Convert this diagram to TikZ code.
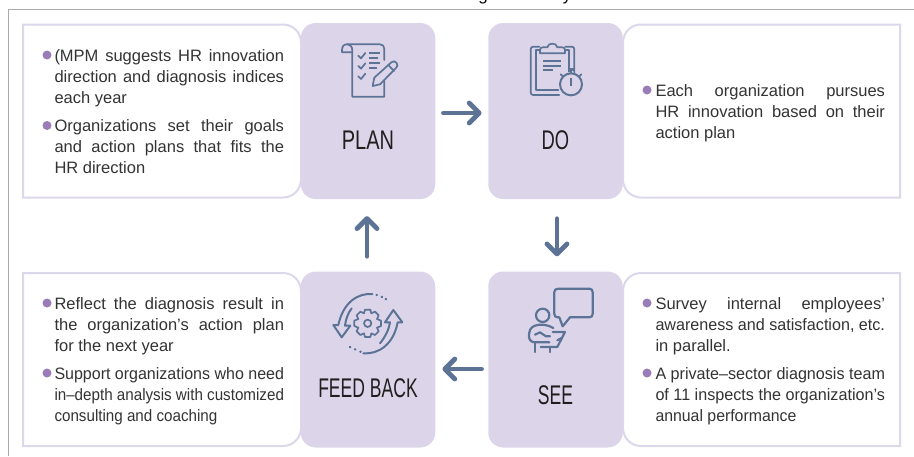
\documentclass[tikz,border=0pt]{standalone}
\usepackage{graphicx}
\usepackage{fontspec}
\setmainfont{Liberation Sans}
\usetikzlibrary{arrows.meta}
\definecolor{pillc}{HTML}{DCD5EA}
\definecolor{edgec}{HTML}{DDD7EC}
\definecolor{steel}{HTML}{5C7396}
\definecolor{dotc}{HTML}{9A7DB8}
\definecolor{inkc}{HTML}{333333}
\definecolor{framec}{HTML}{ABABAB}
\newlength\jw \setlength\jw{229.5pt}
\newsavebox\jb
\newcommand\jl[1]{\sbox\jb{#1}\ifdim\wd\jb>\jw \pgfmathsetmacro\jr{\jw/\wd\jb}\scalebox{\jr}[1]{\usebox\jb}\else\makebox[\jw][s]{#1}\fi\\}
\newcommand\nar[2]{\scalebox{#1}[1]{#2}}
\tikzset{
  x=1pt,y=-1pt,
  pill/.style={fill=pillc,rounded corners=15pt,minimum width=134.5pt,minimum height=176pt,inner sep=0pt},
  boxedge/.style={draw=edgec,line width=2pt,fill=white},
  para/.style={anchor=base west,inner sep=0pt,outer sep=0pt,align=left,text=inkc,font=\fontsize{16.5}{21}\selectfont},
  dotmark/.style={circle,fill=dotc,minimum size=9pt,inner sep=0pt},
  stage/.style={anchor=base,inner sep=0pt,text=black!88,font=\fontsize{27}{30}\selectfont},
  flow/.style={draw=steel,line width=4.8pt,line cap=round,-{Straight Barb[length=10pt,width=20pt,line width=4.8pt,round]}},
  icon/.style={draw=steel,line width=1.7pt,line join=round,line cap=round},
  iconbar/.style={draw=steel,line width=2pt},
}
\begin{document}
\begin{tikzpicture}
\useasboundingbox (0,0) rectangle (914,456);
\fill[white] (0,0) rectangle (914,456);
% clipped title descenders
\begin{scope}
\clip (0,0) rectangle (914,3.6);
\node[anchor=base,inner sep=0pt,font=\fontsize{17}{20}\selectfont] (tg) at (483,0) {g};
\node[anchor=base,inner sep=0pt,font=\fontsize{17}{20}\selectfont] (ty) at (567,0) {y};
\end{scope}
% frame
\draw[framec,line width=1pt] (8.5,456) -- (8.5,9) -- (914,9);
% text boxes
\path[boxedge] (23,24.5) -- (283,24.5) .. controls (293,24.5) and (301,32.5) .. (301,42.5) -- (301,179.5) .. controls (301,189.5) and (293,197.5) .. (283,197.5) -- (23,197.5) -- cycle;
\path[boxedge] (900,24.5) -- (641,24.5) .. controls (631,24.5) and (623,32.5) .. (623,42.5) -- (623,179.5) .. controls (623,189.5) and (631,197.5) .. (641,197.5) -- (900,197.5) -- cycle;
\path[boxedge] (23,273) -- (283,273) .. controls (293,273) and (301,281) .. (301,291) -- (301,428) .. controls (301,438) and (293,446) .. (283,446) -- (23,446) -- cycle;
\path[boxedge] (900,273) -- (641,273) .. controls (631,273) and (623,281) .. (623,291) -- (623,428) .. controls (623,438) and (631,446) .. (641,446) -- (900,446) -- cycle;
% stage panels
\node[pill] (plan) at (368,111) {};
\node[pill] (do) at (555.5,111) {};
\node[pill] (feed) at (368,359.5) {};
\node[pill] (see) at (555.5,359.5) {};
% stage labels
\node[stage] (planlab) at (368,149) {\nar{0.74}{PLAN}};
\node[stage] (dolab) at (555.5,149) {\nar{0.68}{DO}};
\node[stage] (feedlab) at (368,397.7) {\nar{0.65}{FEED BACK}};
\node[stage] (seelab) at (555.5,404) {\nar{0.65}{SEE}};
% flow arrows
\draw[flow,shorten <=8pt,shorten >=6.5pt] ([yshift=-2pt]plan.east) -- ([yshift=-2pt]do.west);
\draw[flow,shorten <=19.5pt,shorten >=15pt] ([xshift=1.5pt]do.south) -- ([xshift=1.5pt,yshift=0pt]see.north);
\draw[flow,shorten <=6.5pt,shorten >=7pt] ([yshift=-9.5pt]see.west) -- ([yshift=-9.5pt]feed.east);
\draw[flow,shorten <=15pt,shorten >=17pt] ([xshift=-1pt]feed.north) -- ([xshift=-1pt]plan.south);
% plan text
\node[dotmark] (d1) at (47,55) {};
\node[para] (t1) at (54.5,103.4) {\jl{(MPM suggests HR innovation}\jl{direction and diagnosis indices}each year};
\node[dotmark] (d2) at (47,125.5) {};
\node[para] (t2) at (54.5,173.4) {\jl{Organizations set their goals}\jl{and action plans that fits the}HR direction};
% do text
\node[dotmark] (d3) at (647,90) {};
\node[para] (t3) at (655.5,138.4) {\jl{Each organization pursues}\jl{HR innovation based on their}action plan};
% feed text
\node[dotmark] (d4) at (47,303) {};
\node[para] (t4) at (54.5,351.4) {\jl{Reflect the diagnosis result in}\jl{the organization’s action plan}for the next year};
\node[dotmark] (d5) at (47,373) {};
\node[para] (t5) at (54.5,421.4) {\jl{Support organizations who need}\jl{in–depth analysis with customized}\scalebox{0.92}[1]{consulting and coaching}};
% see text
\node[dotmark] (d6) at (647,303) {};
\node[para] (t6) at (655.5,351.4) {\jl{Survey internal employees’}\jl{awareness and satisfaction, etc.}in parallel.};
\node[dotmark] (d7) at (647,373) {};
\node[para] (t7) at (655.5,421.4) {\jl{A private–sector diagnosis team}\jl{of 11 inspects the organization’s}\scalebox{0.96}[1]{annual performance}};
% plan icon
\begin{scope}[shift={(330,35)},x=0.3333pt,y=-0.3333pt]
\draw[icon] (163,75) -- (163,42) .. controls (163,33) and (158,28) .. (150,28) -- (50,28) .. controls (40,28) and (36,36) .. (36,46) -- (36,52) -- (66,52);
\draw[icon] (50,28) .. controls (60,28) and (67,35) .. (67,46) -- (67,185) -- (163,185) -- (163,135);
\draw[icon] (85,62) -- (93,70) -- (106,54);
\draw[icon] (85,93) -- (93,101) -- (106,85);
\draw[icon] (85,124) -- (93,132) -- (106,116);
\draw[iconbar] (118,55) -- (150,55) (118,70) -- (143,70) (118,85) -- (150,85) (118,100) -- (140,100);
\draw[icon] (128,153) -- (133,128) -- (184,82) .. controls (190,77) and (196,78) .. (200,84) .. controls (204,90) and (203,94) .. (198,99) -- (150,148) -- cycle;
\draw[icon] (175,90) -- (192,108);
\end{scope}
% do icon
\begin{scope}[shift={(520,35)},x=0.3333pt,y=-0.3333pt]
\draw[icon] (58,35) -- (40,35) .. controls (35,35) and (32,38) .. (32,43) -- (32,172) .. controls (32,177) and (35,180) .. (40,180) -- (118,180);
\draw[icon] (136,35) -- (155,35) .. controls (160,35) and (163,38) .. (163,43) -- (163,112);
\draw[icon] (58,46) -- (47,46) -- (47,165) -- (115,165);
\draw[icon] (136,46) -- (148,46) -- (148,110);
\draw[icon] (60,55) -- (60,45) .. controls (60,40) and (63,37) .. (68,37) -- (82,37) .. controls (84,22) and (110,22) .. (112,37) -- (127,37) .. controls (132,37) and (135,40) .. (135,45) -- (135,55) -- cycle;
\draw[iconbar,line width=2.2pt] (70,78) -- (122,78) (70,92) -- (122,92) (70,106) -- (100,106);
\draw[icon,line width=2pt] (153,148) circle[radius=33];
\draw[iconbar,line width=2.8pt] (143,104) -- (164,104) (153,104) -- (153,116) (153,130) -- (153,152);
\draw[icon] (122,118) -- (128,124) (184,118) -- (178,124);
\end{scope}
% feedback icon
\begin{scope}[shift={(325,285)},x=0.3333pt,y=-0.3333pt]
\draw[icon,line width=2pt] (142,27) .. controls (100,24) and (55,50) .. (40,120) -- (25,120) -- (50,157) -- (76,122) -- (60,122) .. controls (62,105) and (68,85) .. (80,70);
\draw[icon,line width=2pt] (115,205) .. controls (160,208) and (205,180) .. (218,112) -- (232,112) -- (205,75) -- (180,112) -- (195,112) .. controls (192,130) and (185,150) .. (165,175);
\draw[icon,line width=2.4pt] (155,30) -- (156,30) (170,35) -- (171,36) (182,42) -- (183,43);
\draw[icon,line width=2.4pt] (75,186) -- (76,187) (90,193) -- (91,193) (106,200) -- (107,200);
\draw[icon] (128,115) circle[radius=11];
\draw[icon] (120,74) -- (136,74) -- (139,85) -- (150,80) -- (161,91) -- (156,102) -- (168,107) -- (168,123) -- (156,128) -- (161,139) -- (150,150) -- (139,145) -- (136,156) -- (120,156) -- (117,145) -- (106,150) -- (95,139) -- (100,128) -- (88,123) -- (88,107) -- (100,102) -- (95,91) -- (106,80) -- (117,85) -- cycle;
\end{scope}
% see icon
\begin{scope}[shift={(520,283)},x=0.3333pt,y=-0.3333pt]
\draw[icon,line width=2.2pt] (115,17) -- (208,17) .. controls (214,17) and (218,21) .. (218,27) -- (218,93) .. controls (218,99) and (214,103) .. (208,103) -- (150,103) -- (128,130) -- (118,103) -- (113,103) .. controls (107,103) and (103,99) .. (103,93) -- (103,27) .. controls (103,21) and (107,17) .. (115,17) -- cycle;
\draw[icon,line width=2.2pt] (68,97) circle[radius=20];
\draw[icon,line width=2.2pt] (100,135) .. controls (85,125) and (60,122) .. (45,128) .. controls (30,133) and (27,145) .. (27,160) .. controls (27,172) and (35,178) .. (45,178) -- (88,178);
\draw[icon,line width=2.2pt] (45,155) -- (60,148) -- (78,160) -- (90,160);
\draw[icon,line width=2.2pt] (98,147) -- (135,147) -- (112,192) -- (62,192);
\draw[icon,line width=2.2pt] (112,172) -- (125,165);
\draw[icon,line width=2.2pt] (45,178) -- (45,207) (90,192) -- (90,207);
\end{scope}
\end{tikzpicture}
\end{document}
